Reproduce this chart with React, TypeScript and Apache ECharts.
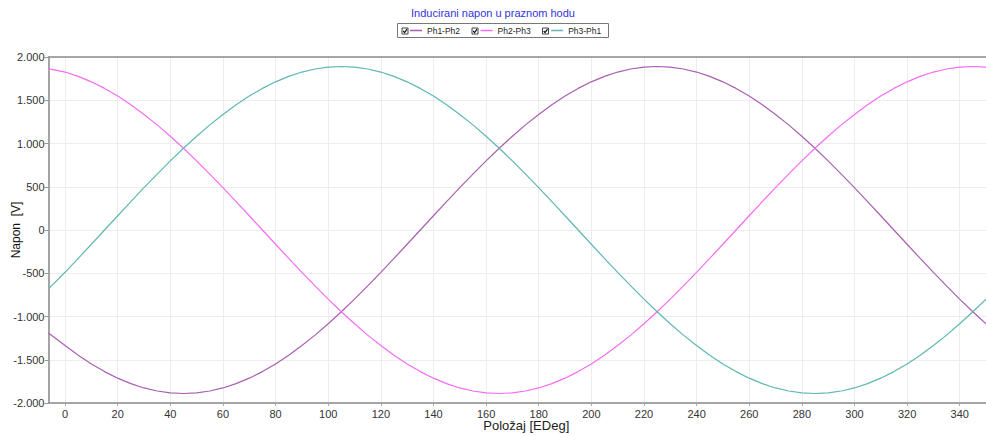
import React, { useEffect, useRef } from "react";
import * as echarts from "echarts";

const titleText = "Inducirani napon u praznom hodu";
const seriesNames = ["Ph1-Ph2", "Ph2-Ph3", "Ph3-Ph1"];
const seriesColors = ["#a95fb1", "#f56cf5", "#5eb7b2"];

const positions = [
  -6.3, 0, 5, 10, 15, 20, 25, 30, 35, 40, 45, 50, 55, 60, 65, 70, 75, 80, 85, 90, 95,
  100, 105, 110, 115, 120, 125, 130, 135, 140, 145, 150, 155, 160, 165, 170, 175,
  180, 185, 190, 195, 200, 205, 210, 215, 220, 225, 230, 235, 240, 245, 250, 255,
  260, 265, 270, 275, 280, 285, 290, 295, 300, 305, 310, 315, 320, 325, 330, 335,
  340, 345, 350,
];

const ph12 = [
  -1190, -1336, -1448, -1548, -1637, -1713, -1776, -1826, -1861, -1883, -1890,
  -1883, -1861, -1826, -1776, -1713, -1637, -1548, -1448, -1336, -1215,
  -1084, -945, -799, -646, -489, -328, -165, 0, 165, 328,
  489, 646, 799, 945, 1084, 1215, 1336, 1448, 1548, 1637,
  1713, 1776, 1826, 1861, 1883, 1890, 1883, 1861, 1826, 1776,
  1713, 1637, 1548, 1448, 1336, 1215, 1084, 945, 799, 646,
  489, 328, 165, 0, -165, -328, -489, -646, -799, -945,
  -1084,
];

const ph23 = [
  1865, 1826, 1776, 1713, 1637, 1548, 1448, 1336, 1215, 1084, 945,
  799, 646, 489, 328, 165, 0, -165, -328, -489, -646,
  -799, -945, -1084, -1215, -1336, -1448, -1548, -1637, -1713, -1776,
  -1826, -1861, -1883, -1890, -1883, -1861, -1826, -1776, -1713, -1637,
  -1548, -1448, -1336, -1215, -1084, -945, -799, -646, -489, -328,
  -165, 0, 165, 328, 489, 646, 799, 945, 1084, 1215,
  1336, 1448, 1548, 1637, 1713, 1776, 1826, 1861, 1883, 1890,
  1883,
];

const ph31 = [
  -680, -489, -328, -165, 0, 165, 328, 489, 646, 799, 945,
  1084, 1215, 1336, 1448, 1548, 1637, 1713, 1776, 1826, 1861,
  1883, 1890, 1883, 1861, 1826, 1776, 1713, 1637, 1548, 1448,
  1336, 1215, 1084, 945, 799, 646, 489, 328, 165, 0,
  -165, -328, -489, -646, -799, -945, -1084, -1215, -1336, -1448,
  -1548, -1637, -1713, -1776, -1826, -1861, -1883, -1890, -1883, -1861,
  -1826, -1776, -1713, -1637, -1548, -1448, -1336, -1215, -1084, -945,
  -799,
];

const seriesValues = [ph12, ph23, ph31];

const xMin = -6.3;
const xMax = 350;
const yMin = -2000;
const yMax = 2000;
const yStep = 500;

const FONT = "'Liberation Sans', Arial, sans-serif";

function fmtThousands(v: number): string {
  const sign = v < 0 ? "-" : "";
  const a = Math.abs(Math.round(v));
  const s = String(a).replace(/\B(?=(\d{3})+(?!\d))/g, ".");
  return sign + s;
}

function checkbox(x: number, y: number) {
  return {
    type: "group",
    x,
    y,
    children: [
      { type: "rect", shape: { x: 0, y: 0, width: 6, height: 6 }, style: { fill: "#fff", stroke: "#444", lineWidth: 1 } },
      { type: "polyline", shape: { points: [[1.2, 3], [2.6, 4.6], [5, 1.2]] }, style: { stroke: "#111", lineWidth: 1.2, fill: null } },
    ],
  };
}

export default function App() {
  const ref = useRef<HTMLDivElement>(null);
  useEffect(() => {
    if (!ref.current) return;
    const chart = echarts.init(ref.current, null, { renderer: "svg" });
    const option = {
      animation: false,
      backgroundColor: "#ffffff",
      title: {
        text: titleText,
        left: "center",
        top: 7,
        padding: 0,
        textStyle: { color: "#3434dc", fontSize: 11, fontWeight: "normal", fontFamily: FONT },
      },
      legend: {
        left: 410,
        top: 26,
        icon: "rect",
        itemWidth: 12,
        itemHeight: 1.5,
        itemGap: 20.5,
        padding: 0,
        data: seriesNames,
        textStyle: { color: "#222", fontSize: 8.5, fontFamily: FONT },
      },
      graphic: [
        { type: "rect", shape: { x: 397.5, y: 23.5, width: 211, height: 14 }, style: { fill: "none", stroke: "#777", lineWidth: 1 }, z: 0 },
        checkbox(402, 28),
        checkbox(472, 28),
        checkbox(542.5, 28),
      ],
      grid: { left: 48.5, right: 0, top: 57, bottom: 33, outerBoundsMode: "none", containLabel: false },
      xAxis: [
        {
          type: "value",
          min: xMin,
          max: xMax,
          splitNumber: 18,
          name: "Položaj [EDeg]",
          nameLocation: "middle",
          nameGap: 16,
          nameMoveOverlap: false,
          nameTextStyle: { color: "#222", fontSize: 13, fontFamily: FONT, padding: [0, 0, 0, 18] },
          axisLine: { show: true, onZero: false, lineStyle: { color: "#8a8a8a", width: 1.5 } },
          axisTick: { show: true, length: 3, lineStyle: { color: "#aaa" } },
          axisLabel: { color: "#333", fontSize: 11, fontFamily: FONT, margin: 5, showMinLabel: false, showMaxLabel: false },
          splitLine: { show: true, lineStyle: { color: "#ededed", width: 1 } },
        },
        {
          type: "value",
          position: "top",
          min: xMin,
          max: xMax,
          axisLine: { show: true, onZero: false, lineStyle: { color: "#8a8a8a", width: 1.5 } },
          axisTick: { show: false },
          axisLabel: { show: false },
          splitLine: { show: false },
        },
      ],
      yAxis: {
        type: "value",
        min: yMin,
        max: yMax,
        interval: yStep,
        name: "Napon  [V]",
        nameLocation: "middle",
        nameRotate: 90,
        nameGap: 27,
        nameMoveOverlap: false,
        nameTextStyle: { color: "#111", fontSize: 12, fontFamily: FONT },
        axisLine: { show: true, onZero: false, lineStyle: { color: "#8a8a8a", width: 1.5 } },
        axisTick: { show: true, length: 4, lineStyle: { color: "#999" } },
        axisLabel: { color: "#333", fontSize: 11, fontFamily: FONT, margin: 4, formatter: (v: number) => fmtThousands(v) },
        splitLine: { show: true, lineStyle: { color: "#ededed", width: 1 } },
      },
      series: seriesNames.map((name, i) => ({
        name,
        type: "line",
        xAxisIndex: 0,
        showSymbol: false,
        symbol: "none",
        smooth: false,
        color: seriesColors[i],
        lineStyle: { color: seriesColors[i], width: 1.2 },
        data: positions.map((p, j) => [p, seriesValues[i][j]]),
      })),
    };
    chart.setOption(option as any);
    return () => chart.dispose();
  }, []);
  return <div ref={ref} style={{ width: 986, height: 436, position: "absolute", left: 0, top: 0 }} />;
}
